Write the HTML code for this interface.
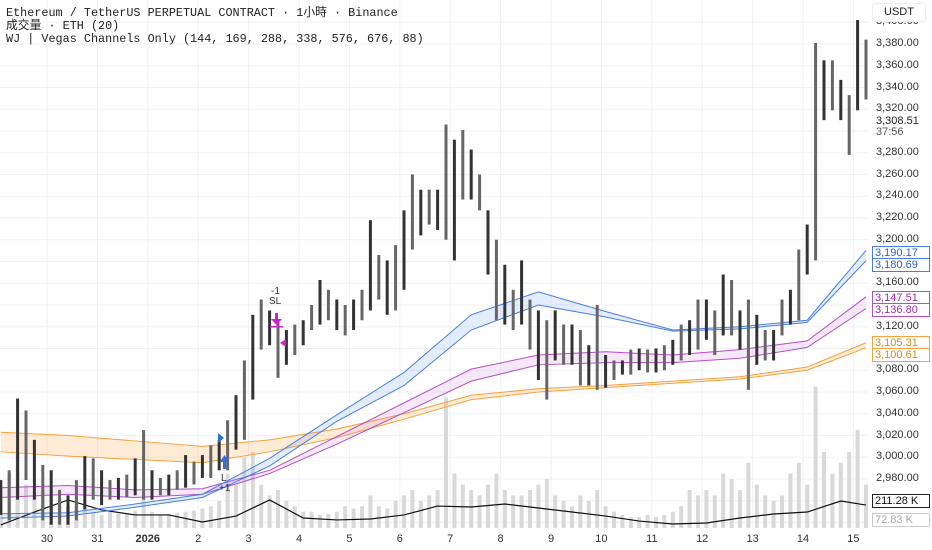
<!DOCTYPE html>
<html><head><meta charset="utf-8">
<style>
html,body{margin:0;padding:0;background:#fff;}
body{width:932px;height:550px;overflow:hidden;position:relative;font-family:"Liberation Sans","Noto Sans CJK TC",sans-serif;}
svg{position:absolute;left:0;top:0;}
</style></head>
<body>
<svg id="chart" width="932" height="550">
  <g id="grid"></g>
  <g id="vol"></g>
  <g id="bands"></g>
  <g id="candles"></g>
  <g id="marks"></g>
  <g id="axis"></g>
  <g id="hdr">
    <text x="6" y="16" font-family="Liberation Mono, Noto Sans CJK TC, monospace" font-size="11.8" fill="#222">Ethereum / TetherUS PERPETUAL CONTRACT · 1小時 · Binance</text>
    <text x="6" y="29" font-family="Liberation Mono, Noto Sans CJK TC, monospace" font-size="11.8" fill="#222">成交量 · ETH (20)</text>
    <text x="6" y="42" font-family="Liberation Mono, Noto Sans CJK TC, monospace" font-size="11.8" fill="#222">WJ | Vegas Channels Only (144, 169, 288, 338, 576, 676, 88)</text>
  </g>
</svg>
<script>
const highs=[2979,2988,3054,3043,3016,2993,2988,2970,2965,2979,3001,2999,2988,2979,2981,2984,2999,3025,2988,2981,2984,2988,3002,2996,3002,3011,3016,3034,3057,3089,3131,3145,3135,3126,3117,3122,3126,3140,3163,3154,3145,3140,3145,3154,3218,3186,3181,3195,3227,3260,3246,3246,3246,3306,3292,3301,3283,3260,3227,3200,3177,3154,3181,3145,3135,3126,3135,3122,3122,3117,3103,3140,3094,3089,3089,3099,3100,3099,3100,3103,3108,3122,3126,3145,3145,3135,3168,3163,3135,3145,3131,3117,3117,3145,3154,3191,3214,3381,3365,3365,3347,3333,3402,3384];
const lows=[2947,2942,2961,2979,2961,2942,2938,2938,2938,2942,2952,2961,2956,2961,2961,2963,2965,2961,2961,2965,2965,2970,2972,2975,2981,2981,2988,2988,3007,3016,3053,3099,3103,3073,3085,3094,3103,3117,3122,3126,3117,3112,3117,3126,3135,3145,3131,3135,3154,3191,3204,3214,3209,3200,3181,3237,3237,3227,3168,3126,3122,3117,3122,3099,3071,3053,3089,3085,3085,3066,3066,3062,3064,3071,3076,3076,3080,3078,3078,3080,3085,3089,3094,3099,3108,3094,3112,3112,3099,3062,3085,3089,3089,3112,3122,3126,3168,3181,3310,3319,3310,3278,3319,3329];
const volumes=[250,500,700,400,300,350,300,250,200,220,180,150,120,150,130,140,160,300,150,120,130,140,150,160,180,200,250,500,400,650,700,400,300,350,250,200,150,150,120,130,150,200,180,200,300,200,180,250,300,350,250,300,350,1200,500,400,350,300,400,500,350,300,300,350,400,450,300,250,200,300,250,350,200,150,120,100,100,120,100,120,150,200,350,300,350,300,500,450,350,600,400,300,250,300,500,600,400,1300,700,500,600,700,900,400];
const volMAIdx=[0,4,8,12,16,20,24,28,32,36,40,44,48,52,56,60,64,68,72,76,80,84,88,92,96,100,103];
const volMA=[28,147,258,166,120,120,55,110,258,92,74,83,120,202,193,221,184,147,110,64,37,46,92,129,147,248,211];
const emaIdx=[0,8,16,24,32,40,48,56,64,72,80,88,96,103];
const ema144=[2948,2949,2957,2966,2999,3039,3078,3131,3152,3134,3117,3120,3126,3190.17];
const ema169=[2944,2946,2954,2963,2992,3033,3066,3117,3140,3129,3116,3118,3124,3180.69];
const ema288=[2972,2974,2970,2971,2988,3019,3050,3081,3094,3097,3094,3099,3107,3147.51];
const ema338=[2963,2966,2963,2966,2985,3012,3041,3070,3085,3087,3087,3091,3101,3136.80];
const ema576=[3023,3020,3015,3010,3016,3026,3040,3057,3063,3066,3070,3074,3083,3105.31];
const ema676=[3005,3001,2998,2995,3005,3018,3035,3053,3060,3064,3068,3072,3080,3100.61];
const priceTicks=[3400,3380,3360,3340,3320,3300,3280,3260,3240,3220,3200,3180,3160,3140,3120,3100,3080,3060,3040,3020,3000,2980,2960,2940];
const dayLabels=["30","31","2026","2","3","4","5","6","7","8","9","10","11","12","13","14","15"];
const dayIdx=[5.5,11.5,17.5,23.5,29.5,35.5,41.5,47.5,53.5,59.5,65.5,71.5,77.5,83.5,89.5,95.5,101.5];

const NS="http://www.w3.org/2000/svg";
const PW=868, VBASE=528;
function xOf(i){return 0.8+8.4*i;}
function yOf(p){return 44+(3380-p)*1.0875;}
function yVol(v){return VBASE-v/9.2;}
function mk(tag,attrs,parent){const e=document.createElementNS(NS,tag);for(const k in attrs)e.setAttribute(k,attrs[k]);parent.appendChild(e);return e;}
const G=id=>document.getElementById(id);

priceTicks.forEach(p=>{
  const l=mk('line',{x1:0,x2:PW,y1:yOf(p),y2:yOf(p),stroke:'#f0f2f6','stroke-width':1},G('grid'));
  
  
});
dayIdx.forEach(d=>{
  const l=mk('line',{x1:xOf(d),x2:xOf(d),y1:0,y2:528,stroke:'#f0f2f6','stroke-width':1},G('grid'));
  
  
});

volumes.forEach((v,i)=>{
  const y=Math.max(yVol(v),380);
  const r=mk('rect',{x:xOf(i)-2,y:y,width:4,height:VBASE-y,fill:'#d9d9d9'},G('vol'));
  
  
});
const maPts=volMA.map((v,k)=>xOf(volMAIdx[k])+','+yVol(v)).join(' ');
const ma=mk('polyline',{points:maPts,fill:'none',stroke:'#111','stroke-width':1.2},G('vol'));



function band(up,lo,stroke,fill,name){
  const u=up.map((v,k)=>[xOf(emaIdx[k]),yOf(v)]);
  const l=lo.map((v,k)=>[xOf(emaIdx[k]),yOf(v)]);
  const poly=mk('polygon',{points:u.concat(l.slice().reverse()).map(p=>p.join(',')).join(' '),fill:fill,stroke:'none'},G('bands'));
  
  
  const a=mk('polyline',{points:u.map(p=>p.join(',')).join(' '),fill:'none',stroke:stroke,'stroke-width':1},G('bands'));
  
  
  const b=mk('polyline',{points:l.map(p=>p.join(',')).join(' '),fill:'none',stroke:stroke,'stroke-width':1},G('bands'));
  
  
}
band(ema576,ema676,'#f5a23f','rgba(255,170,70,0.22)','orange-channel');
band(ema288,ema338,'#b44fc4','rgba(200,110,220,0.16)','purple-channel');
band(ema144,ema169,'#4a7ee0','rgba(80,140,240,0.16)','blue-channel');

highs.forEach((h,i)=>{
  const l=lows[i];
  const r=mk('rect',{x:xOf(i)-1.5,y:yOf(h),width:3,height:Math.max(1,yOf(l)-yOf(h)),fill:(i%2===1)?'#666':'#333'},G('candles'));
  
  
});
</script>
<svg width="932" height="550" style="pointer-events:none">
  <g>
    <polygon points="218,433 224,438 218,443" fill="#2f6fe0"/>
    <rect x="223" y="461" width="3" height="8" fill="#2f6fe0"/>
    <polygon points="220,462 224.5,455 229,462" fill="#2f6fe0"/>
    <text x="221" y="481" font-size="10" fill="#333">L</text>
    <text x="219" y="491" font-size="10" fill="#333">+1</text>
  </g>
  <g>
    <text x="271" y="294" font-size="10" fill="#333">-1</text>
    <text x="269" y="304" font-size="10" fill="#333">SL</text>
    <rect x="275" y="313" width="3" height="7" fill="#d020d0"/>
    <polygon points="271,319 276.5,325 282,319" fill="#d020d0"/>
    <rect x="270" y="326" width="13" height="1.5" fill="#d020d0"/>
    <polygon points="286,339 280,343 286,347" fill="#d020d0"/>
  </g>
</svg>
<div id="axisLayer" style="position:absolute;left:868px;top:0;width:64px;height:550px;background:#fff;font-size:11px;color:#333;"></div>
<div id="dateAxis" style="position:absolute;left:0;top:528px;width:868px;height:22px;font-size:11px;color:#333;"></div>
<script>
const ax=document.getElementById('axisLayer');
priceTicks.forEach(p=>{
  const d=document.createElement('div');
  
  
  d.style.cssText='position:absolute;left:8px;top:'+(yOf(p)-7)+'px;';
  d.textContent=p.toLocaleString('en-US',{minimumFractionDigits:2});
  ax.appendChild(d);
});
function tag(txt,y,border,color,bg,name){
  const d=document.createElement('div');
  
  
  d.style.cssText='position:absolute;left:4px;top:'+y+'px;width:54px;height:12px;line-height:12px;border:1px solid '+border+';color:'+color+';background:'+bg+';padding-left:2px;font-size:11px;';
  d.textContent=txt;ax.appendChild(d);
}
const cur=document.createElement('div');


cur.style.cssText='position:absolute;left:8px;top:116px;background:#fff;line-height:11px;font-size:11px;color:#222;';
cur.innerHTML='3,308.51<br><span style="color:#555">37:56</span>';
ax.appendChild(cur);
const fmt=v=>v.toFixed(2).replace(/^(\d)(\d{3})/,'$1,$2');
tag(fmt(ema144[13]),246,'#4a7ee0','#2f5fd0','#fff','ema144-label');
tag(fmt(ema169[13]),258,'#4a7ee0','#2f5fd0','#fff','ema169-label');
tag(fmt(ema288[13]),291,'#b44fc4','#9a2fb0','#fff','ema288-label');
tag(fmt(ema338[13]),303,'#b44fc4','#9a2fb0','#fff','ema338-label');
tag(fmt(ema576[13]),336,'#f5a23f','#e08a10','#fff','ema576-label');
tag(fmt(ema676[13]),348,'#f5a23f','#e08a10','#fff','ema676-label');
tag('211.28 K',494,'#222','#111','#fff','volume-ma-label');
tag('72.83 K',513,'#ccc','#aaa','#fff','volume-label');
const u=document.createElement('div');


u.style.cssText='position:absolute;left:4px;top:3px;width:52px;height:17px;line-height:17px;text-align:center;background:#fff;border:1px solid #eee;border-radius:3px;font-size:11px;color:#222;';
u.textContent='USDT';ax.appendChild(u);
const da=document.getElementById('dateAxis');
dayLabels.forEach((t,k)=>{
  const d=document.createElement('div');
  
  
  d.style.cssText='position:absolute;top:5px;width:40px;text-align:center;left:'+(xOf(dayIdx[k])-20)+'px;'+(t==='2026'?'font-weight:bold;':'');
  d.textContent=t;da.appendChild(d);
});
</script>
</body></html>
